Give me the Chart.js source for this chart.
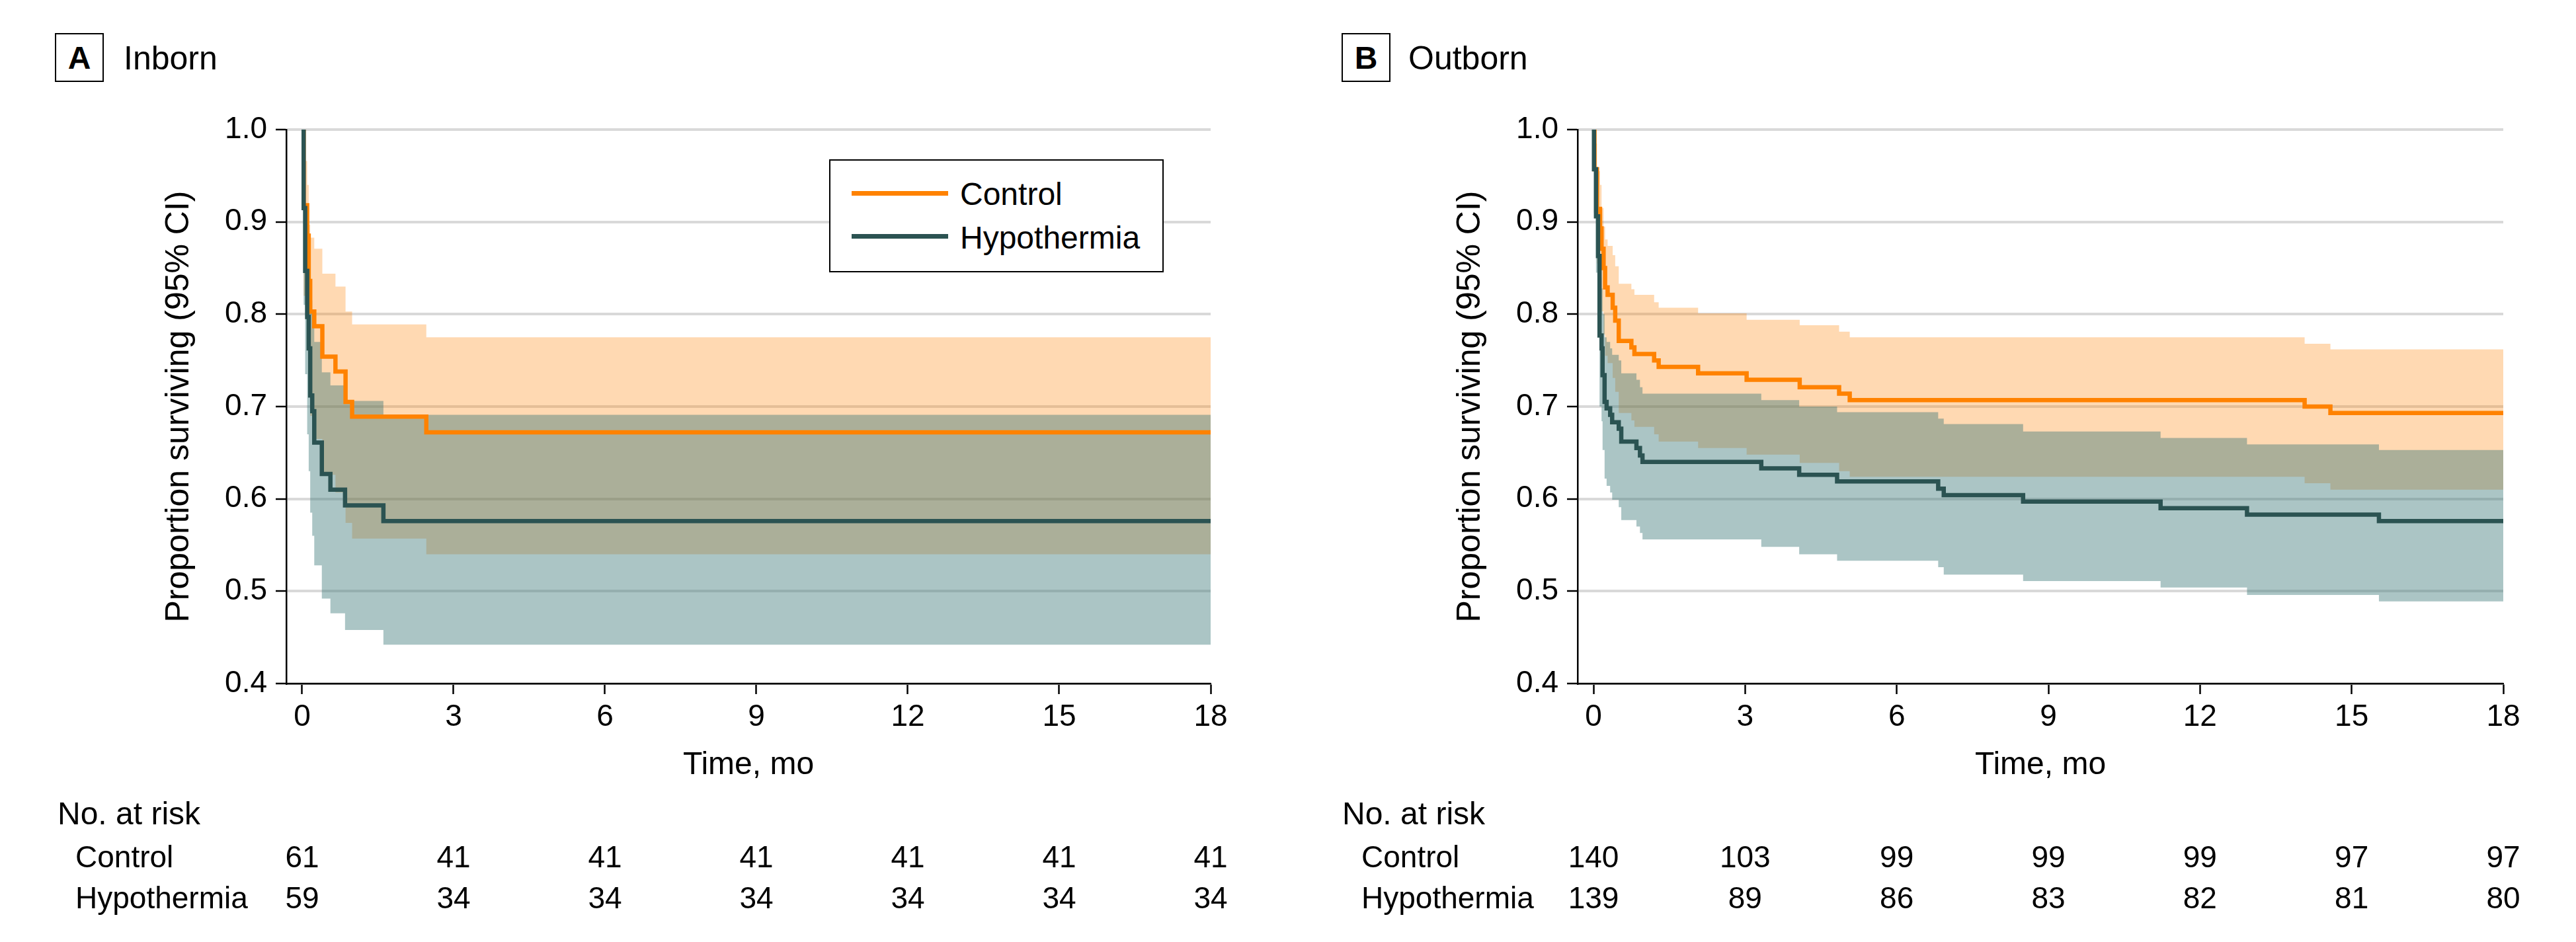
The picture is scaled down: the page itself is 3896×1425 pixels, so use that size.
<!DOCTYPE html>
<html>
<head>
<meta charset="utf-8">
<script src="https://cdn.jsdelivr.net/npm/chart.js@4.4.1/dist/chart.umd.min.js"></script>
<style>
  html, body { margin: 0; padding: 0; background: #fff; }
  #page { position: relative; width: 3896px; height: 1425px; overflow: hidden; background: #fff; font-family: "Liberation Sans", Arial, sans-serif; color: #000; }
  canvas { position: absolute; top: 0; }
  .t { position: absolute; white-space: nowrap; color: #000; font-family: "Liberation Sans", Arial, sans-serif; }
  .box { position: absolute; box-sizing: border-box; border: 2.5px solid #000; background: #fff; }
</style>
</head>
<body>
<div id="page">
  <canvas id="chartA" width="1953" height="1425" style="left:0px;width:1953px;height:1425px"></canvas>
  <canvas id="chartB" width="1943" height="1425" style="left:1953px;width:1943px;height:1425px"></canvas>
</div>
<script>
// ---------------- data ----------------
const xTicks = [0, 3, 6, 9, 12, 15, 18];
const yTicks = [0.4, 0.5, 0.6, 0.7, 0.8, 0.9, 1.0];
const seriesNames = ['Control', 'Hypothermia'];

// Panel A: Inborn
const ctrlA_time  = [0, 0.03, 0.10, 0.13, 0.16, 0.24, 0.40, 0.66, 0.86, 0.99, 2.46, 18];
const ctrlA_surv  = [1, 0.918, 0.885, 0.836, 0.803, 0.787, 0.754, 0.738, 0.705, 0.689, 0.672, 0.672];
const ctrlA_upper = [1, 0.966, 0.940, 0.897, 0.883, 0.871, 0.844, 0.830, 0.803, 0.789, 0.775, 0.775];
const ctrlA_lower = [1, 0.820, 0.780, 0.720, 0.690, 0.665, 0.626, 0.607, 0.574, 0.557, 0.540, 0.540];

const hypA_time  = [0, 0.03, 0.06, 0.10, 0.13, 0.16, 0.20, 0.24, 0.39, 0.56, 0.85, 1.61, 18];
const hypA_surv  = [1, 0.915, 0.847, 0.797, 0.763, 0.712, 0.695, 0.661, 0.627, 0.610, 0.593, 0.576, 0.576];
const hypA_upper = [1, 0.963, 0.917, 0.880, 0.854, 0.815, 0.800, 0.770, 0.737, 0.723, 0.706, 0.691, 0.691];
const hypA_lower = [1, 0.810, 0.735, 0.670, 0.630, 0.585, 0.560, 0.528, 0.492, 0.476, 0.458, 0.442, 0.442];

const riskA_ctrl = [61, 41, 41, 41, 41, 41, 41];
const riskA_hyp  = [59, 34, 34, 34, 34, 34, 34];

// Panel B: Outborn
const ctrlB_time  = [0, 0.02, 0.07, 0.13, 0.16, 0.20, 0.23, 0.28, 0.38, 0.43, 0.50, 0.75, 0.81, 1.20, 1.29, 2.07, 3.03, 4.08, 4.86, 5.07, 14.07, 14.58, 18];
const ctrlB_surv  = [1, 0.957, 0.914, 0.893, 0.871, 0.850, 0.829, 0.821, 0.807, 0.793, 0.771, 0.764, 0.757, 0.750, 0.743, 0.736, 0.729, 0.721, 0.714, 0.707, 0.700, 0.693, 0.693];
const ctrlB_upper = [1, 0.985, 0.955, 0.940, 0.915, 0.895, 0.881, 0.874, 0.864, 0.852, 0.833, 0.827, 0.821, 0.813, 0.807, 0.801, 0.794, 0.788, 0.781, 0.775, 0.768, 0.762, 0.762];
const ctrlB_lower = [1, 0.910, 0.855, 0.828, 0.803, 0.778, 0.755, 0.747, 0.731, 0.716, 0.693, 0.685, 0.678, 0.670, 0.662, 0.655, 0.648, 0.639, 0.630, 0.624, 0.617, 0.610, 0.610];

const hypB_time  = [0, 0.01, 0.05, 0.09, 0.12, 0.16, 0.18, 0.22, 0.26, 0.33, 0.37, 0.50, 0.55, 0.85, 0.92, 0.97, 3.32, 4.07, 4.82, 6.82, 6.93, 8.50, 11.22, 12.93, 15.54, 18];
const hypB_surv  = [1, 0.957, 0.906, 0.863, 0.777, 0.763, 0.734, 0.705, 0.698, 0.691, 0.683, 0.676, 0.662, 0.655, 0.647, 0.640, 0.633, 0.626, 0.619, 0.611, 0.604, 0.597, 0.590, 0.583, 0.576, 0.576];
const hypB_upper = [1, 0.980, 0.945, 0.912, 0.840, 0.828, 0.800, 0.775, 0.770, 0.763, 0.756, 0.750, 0.736, 0.729, 0.721, 0.714, 0.707, 0.700, 0.694, 0.687, 0.681, 0.673, 0.666, 0.659, 0.653, 0.653];
const hypB_lower = [1, 0.910, 0.845, 0.795, 0.700, 0.684, 0.653, 0.622, 0.614, 0.607, 0.599, 0.591, 0.577, 0.570, 0.563, 0.556, 0.548, 0.540, 0.533, 0.526, 0.518, 0.511, 0.504, 0.496, 0.489, 0.489];

const riskB_ctrl = [140, 103, 99, 99, 99, 97, 97];
const riskB_hyp  = [139, 89, 86, 83, 82, 81, 80];

// ---------------- styles ----------------
const FONT = '"Liberation Sans", Arial, sans-serif';
const COL_CTRL = '#FF8200';
const COL_HYP = '#2B5352';
const BAND_CTRL = 'rgba(255,128,0,0.30)';
const BAND_HYP = 'rgba(55,117,116,0.42)';
const X_MIN = -0.314;

Chart.defaults.font.family = FONT;
Chart.defaults.color = '#000';

function pts(xs, ys) { return xs.map((x, i) => ({ x: x, y: ys[i] })); }

function lineDs(label, xs, ys, color) {
  return { label, data: pts(xs, ys), borderColor: color, backgroundColor: color, borderWidth: 6.5,
           stepped: true, pointRadius: 0, fill: false, tension: 0, borderCapStyle: 'butt', borderJoinStyle: 'miter' };
}
function bandDs(label, xs, ys, color, fill) {
  return { label, data: pts(xs, ys), borderColor: 'transparent', backgroundColor: color, borderWidth: 1,
           stepped: true, pointRadius: 0, fill: fill, tension: 0 };
}

function makePanel(id, padRight, d) {
  const ctx = document.getElementById(id);
  return new Chart(ctx, {
    type: 'line',
    data: {
      datasets: [
        lineDs(seriesNames[1], d.hT, d.hS, COL_HYP),
        lineDs(seriesNames[0], d.cT, d.cS, COL_CTRL),
        bandDs(seriesNames[1] + ' upper 95% CI', d.hT, d.hU, BAND_HYP, '+1'),
        bandDs(seriesNames[1] + ' lower 95% CI', d.hT, d.hL, BAND_HYP, false),
        bandDs(seriesNames[0] + ' upper 95% CI', d.cT, d.cU, BAND_CTRL, '+1'),
        bandDs(seriesNames[0] + ' lower 95% CI', d.cT, d.cL, BAND_CTRL, false)
      ]
    },
    options: {
      responsive: false,
      animation: false,
      devicePixelRatio: 1,
      layout: { padding: { left: 241, right: padRight, top: 196, bottom: 238 } },
      plugins: { legend: { display: false }, tooltip: { enabled: false } },
      elements: { point: { radius: 0 } },
      scales: {
        x: {
          type: 'linear', min: X_MIN, max: 18,
          afterFit: s => { s.height = 153; },
          afterBuildTicks: s => { s.ticks = xTicks.map(v => ({ value: v })); },
          ticks: { font: { size: 46, family: FONT }, color: '#000', padding: 8, maxRotation: 0, autoSkip: false },
          grid: { drawOnChartArea: false, drawTicks: true, tickLength: 16, tickColor: '#000', tickWidth: 2.5 },
          border: { display: true, color: '#000', width: 2.5 },
          title: { display: true, text: 'Time, mo', font: { size: 48, family: FONT }, color: '#000', padding: 0 }
        },
        y: {
          type: 'linear', min: 0.4, max: 1.0,
          afterFit: s => { s.width = 192; },
          afterBuildTicks: s => { s.ticks = yTicks.map(v => ({ value: v })); },
          ticks: { font: { size: 46, family: FONT }, color: '#000', padding: 13, callback: v => Number(v).toFixed(1) },
          grid: { color: '#d9d9d9', lineWidth: 4, drawTicks: true, tickLength: 16, tickColor: '#000', tickWidth: 2.5 },
          border: { display: true, color: '#000', width: 2.5 },
          title: { display: true, text: 'Proportion surviving (95% CI)', font: { size: 50, family: FONT }, color: '#000', padding: 0 }
        }
      }
    }
  });
}

const chartA = makePanel('chartA', 122, {
  cT: ctrlA_time, cS: ctrlA_surv, cU: ctrlA_upper, cL: ctrlA_lower,
  hT: hypA_time, hS: hypA_surv, hU: hypA_upper, hL: hypA_lower
});
const chartB = makePanel('chartB', 110, {
  cT: ctrlB_time, cS: ctrlB_surv, cU: ctrlB_upper, cL: ctrlB_lower,
  hT: hypB_time, hS: hypB_surv, hU: hypB_upper, hL: hypB_lower
});

// ---------------- html text (headers, legend, risk table) ----------------
const page = document.getElementById('page');
function text(str, left, capY, size, opts) {
  opts = opts || {};
  const el = document.createElement('div');
  el.className = 't';
  el.textContent = str;
  el.style.left = left + 'px';
  el.style.top = (capY - 0.4885 * size) + 'px';
  el.style.fontSize = size + 'px';
  el.style.lineHeight = size + 'px';
  if (opts.bold) el.style.fontWeight = 'bold';
  if (opts.center) el.style.transform = 'translateX(-50%)';
  page.appendChild(el);
  return el;
}
function box(left, top, w, h) {
  const el = document.createElement('div');
  el.className = 'box';
  el.style.left = left + 'px'; el.style.top = top + 'px';
  el.style.width = w + 'px'; el.style.height = h + 'px';
  page.appendChild(el);
  return el;
}
function header(letter, title, boxLeft, titleLeft) {
  box(boxLeft, 50, 74, 74);
  text(letter, boxLeft + 37, 87, 48, { bold: true, center: true });
  text(title, titleLeft, 87, 50);
}
header('A', 'Inborn', 83, 187);
header('B', 'Outborn', 2029, 2130);

// legend (panel A)
box(1254, 241, 506, 171);
[[COL_CTRL, 292.4, 293.5], [COL_HYP, 357.8, 359]].forEach((it, i) => {
  const ln = document.createElement('div');
  ln.style.cssText = 'position:absolute;left:1288px;width:146px;height:7px;background:' + it[0] + ';top:' + (it[1] - 3.5) + 'px';
  page.appendChild(ln);
  text(seriesNames[i], 1452, it[2], 48);
});

// risk tables
function riskTable(chart, offsetX, titleLeft, rowLeft, ctrl, hyp) {
  text('No. at risk', titleLeft, 1230, 48);
  text(seriesNames[0], rowLeft, 1295, 46);
  text(seriesNames[1], rowLeft, 1357, 46);
  const xs = chart.scales.x;
  xTicks.forEach((t, i) => {
    const px = offsetX + xs.getPixelForValue(t);
    text(String(ctrl[i]), px, 1295, 46, { center: true });
    text(String(hyp[i]), px, 1357, 46, { center: true });
  });
}
riskTable(chartA, 0, 87, 114, riskA_ctrl, riskA_hyp);
riskTable(chartB, 1953, 2030, 2059, riskB_ctrl, riskB_hyp);
</script>
</body>
</html>
